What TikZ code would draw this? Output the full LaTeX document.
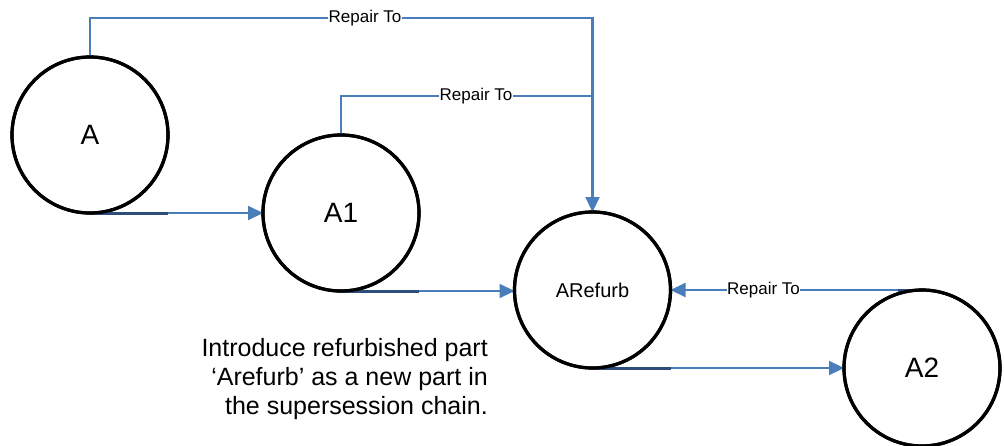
\documentclass[tikz,border=0pt]{standalone}
\usepackage{fontspec}
\setmainfont{Liberation Sans}
\usetikzlibrary{arrows.meta}
\definecolor{lineblue}{HTML}{4A7EBB}
\definecolor{darkblue}{HTML}{2F4D7A}
\begin{document}
\begin{tikzpicture}[x=1pt,y=-1pt,
  part/.style={circle,draw=black,line width=3.2pt,minimum size=156pt,inner sep=0pt,outer sep=0pt,fill=white,font=\fontsize{28}{32}\selectfont},
  smallpart/.style={part,font=\fontsize{20}{24}\selectfont},
  link/.style={draw=lineblue,line width=2.2pt,-{Triangle[length=15pt,width=14pt]}},
  tag/.style={fill=white,inner sep=0.5pt,font=\fontsize{17}{20}\selectfont},
  overlap/.style={draw=darkblue,line width=3pt}]
\useasboundingbox (0,0) rectangle (1004,445);
\node[part] (A) at (90,135) {A};
\node[part] (A1) at (341,213) {A1};
\node[smallpart] (AR) at (592.5,290) {ARefurb};
\node[part] (A2) at (922,368) {A2};
\coordinate (top1) at (592.5,18);
\coordinate (top2) at (592.5,96);
% repair-to links
\draw[link] (A.north) |- (top1) -- (AR.north);
\draw[draw=lineblue,line width=2.2pt] (A1.north) |- (top2);
\node[tag] (t1) at (365,18) {Repair To};
\node[tag] (t2) at (476,96) {Repair To};
\draw[link] (A2.north) -- (A2.north -| AR.east) node[tag,pos=0.63] (t3) {Repair To};
% supersession links
\draw[link] (A.south) -- (A.south -| A1.west);
\draw[link] (A1.south) -- (A1.south -| AR.west);
\draw[link] (AR.south) -- (AR.south -| A2.west);
\draw[overlap] (A.south) -- ++(78,0);
\draw[overlap] (A1.south) -- ++(78,0);
\draw[overlap] (AR.south) -- ++(78,0);
\draw[overlap] (A2.north) -- ++(-24,0);
% redraw circles on top of connectors' ends
\node[part,fill=none] at (A) {};
\node[part,fill=none] at (A1) {};
\node[part,fill=none] at (AR) {};
\node[part,fill=none] at (A2) {};
\node[anchor=east,align=right,inner sep=0pt,font=\fontsize{25}{29}\selectfont] (note) at (488,379)
  {Introduce refurbished part\\‘Arefurb’ as a new part in\\the supersession chain.};
\end{tikzpicture}
\end{document}
